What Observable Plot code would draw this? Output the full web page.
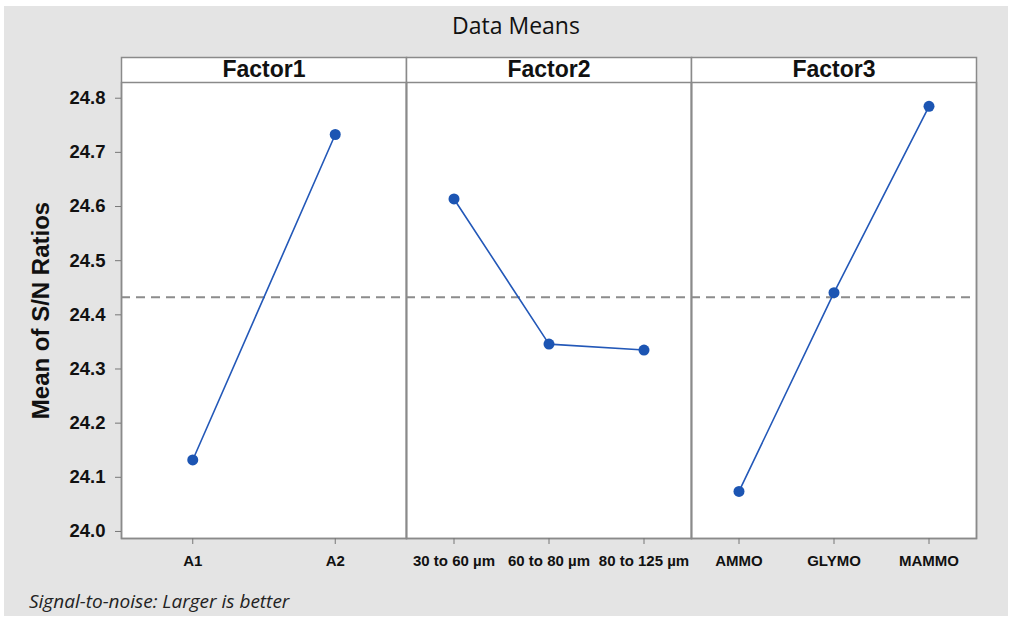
<!DOCTYPE html>
<html>
<head>
<meta charset="utf-8">
<script src="https://cdn.jsdelivr.net/npm/d3@7"></script>
<script src="https://cdn.jsdelivr.net/npm/@observablehq/plot@0.6"></script>
<style>
  html, body { margin: 0; padding: 0; background: #ffffff; width: 1012px; height: 621px; overflow: hidden; }
  #page { position: absolute; left: 4px; top: 6px; width: 1004px; height: 610px; background: #e4e4e4; }
  .title { position: absolute; left: 366px; width: 300px; top: 7px; height: 36px; line-height: 36px; text-align: center;
           font-family: "Open Sans", sans-serif; font-size: 23px; color: #111; white-space: nowrap; }
  .caption { position: absolute; left: 29px; top: 586px; height: 30px; line-height: 30px; width: 400px;
             font-family: "Open Sans", sans-serif; white-space: nowrap;
             font-style: italic; font-size: 19px; color: #222; }
  #chart { position: absolute; left: 0; top: 57px; width: 1012px; height: 528px; }
  #chart svg { display: block; overflow: visible; }
  g[aria-label="y-axis label"] text { font-size: 24px; }
</style>
</head>
<body>
<div id="page">
</div>
<div class="title">Data Means</div>
<div id="chart"></div>
<div class="caption">Signal-to-noise: Larger is better</div>
<script>
// ---- data ----
const factors = ["Factor1", "Factor2", "Factor3"];
const factor1Levels = ["A1", "A2"];
const factor1Means = [24.132, 24.733];
const factor2Levels = ["30 to 60 µm", "60 to 80 µm", "80 to 125 µm"];
const factor2Means = [24.614, 24.346, 24.335];
const factor3Levels = ["AMMO", "GLYMO", "MAMMO"];
const factor3Means = [24.074, 24.441, 24.785];
const yTicks = [24.0, 24.1, 24.2, 24.3, 24.4, 24.5, 24.6, 24.7, 24.8];
const yDomain = [23.987, 24.829];

const levels = [factor1Levels, factor2Levels, factor3Levels];
const means = [factor1Means, factor2Means, factor3Means];
const grandMean = d3.mean(factor1Means);

// one row per level; each level sits at the centre of its own band within the factor's panel
const rows = factors.flatMap((f, i) =>
  levels[i].map((l, j) => ({factor: f, level: l, pos: (j + 0.5) / levels[i].length, value: means[i][j]}))
);

const lineColor = "#2358b8";
const font = "Liberation Sans, Arial, sans-serif";

const chart = Plot.plot({
  width: 1012,
  height: 528,
  marginLeft: 120,
  marginRight: 35,
  marginTop: 25,
  marginBottom: 47,
  style: {background: "transparent", fontFamily: font},
  fx: {domain: factors, padding: 0, axis: null, label: null},
  x: {domain: [0, 1], axis: null, label: null},
  y: {domain: yDomain, axis: null, label: null},
  marks: [
    Plot.frame({fill: "#ffffff", stroke: "#8a8a8a", strokeWidth: 1.5, insetTop: -25}),
    Plot.frame({stroke: "#8a8a8a", strokeWidth: 1.5}),
    Plot.text(factors, {fx: d => d, text: d => d, frameAnchor: "top", dy: -12.5, lineAnchor: "middle",
      fontSize: 23, fontWeight: "bold", fill: "#111"}),
    Plot.axisY(yTicks, {
      anchor: "left", tickSize: 6, tickPadding: 10, stroke: "#777",
      tickFormat: d3.format(".1f"), fontSize: 18.5, fontWeight: "bold", fill: "#111",
      label: "Mean of S/N Ratios", labelAnchor: "center", labelArrow: "none", labelOffset: 90
    }),
    Plot.axisX(rows, {fx: "factor", x: "pos", text: "level", tickSize: 6, tickPadding: 11, stroke: "#777",
      fontSize: 15, fontWeight: "bold", fill: "#111", label: null}),
    Plot.ruleY([grandMean], {stroke: "#8c8c8c", strokeWidth: 2, strokeDasharray: "9,6"}),
    Plot.line(rows, {fx: "factor", x: "pos", y: "value", stroke: lineColor, strokeWidth: 1.6}),
    Plot.dot(rows, {fx: "factor", x: "pos", y: "value", r: 5.5, fill: "#1c55b3", stroke: "none"})
  ]
});
document.getElementById("chart").appendChild(chart);
</script>
</body>
</html>
